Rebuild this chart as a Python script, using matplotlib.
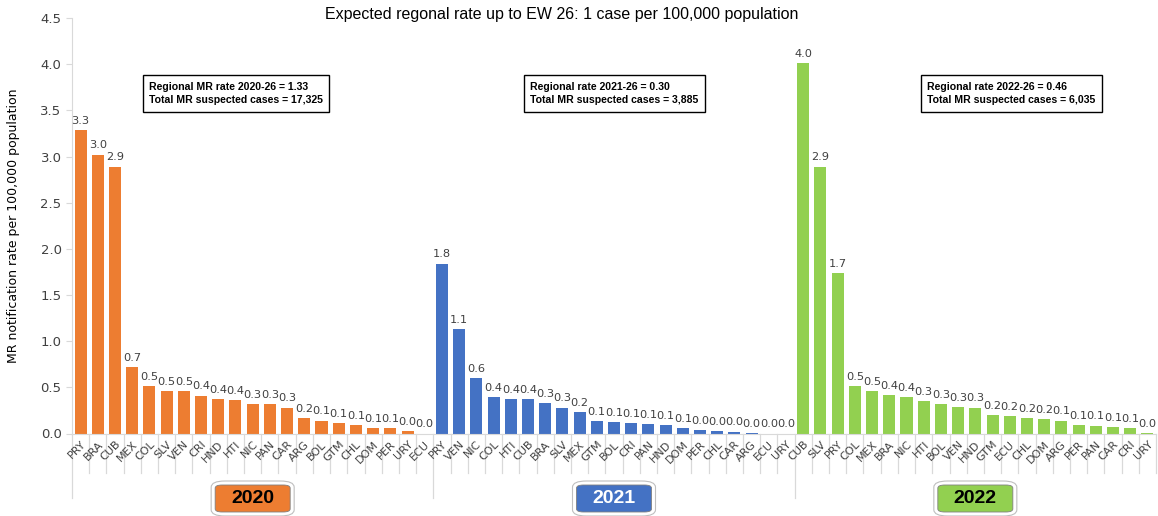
import matplotlib
matplotlib.use("Agg")
import matplotlib.pyplot as plt
from matplotlib.patches import FancyBboxPatch
import matplotlib.transforms as mtransforms

plt.rcParams['font.family'] = ['Liberation Sans', 'DejaVu Sans']

years = ["2020", "2021", "2022"]
countries_2020 = ["PRY", "BRA", "CUB", "MEX", "COL", "SLV", "VEN", "CRI", "HND", "HTI", "NIC",
                  "PAN", "CAR", "ARG", "BOL", "GTM", "CHL", "DOM", "PER", "URY", "ECU"]
rates_2020 = [3.29, 3.02, 2.89, 0.72, 0.51, 0.46, 0.46, 0.41, 0.37, 0.36, 0.32,
              0.32, 0.28, 0.17, 0.14, 0.11, 0.09, 0.06, 0.06, 0.03, 0.0]
countries_2021 = ["PRY", "VEN", "NIC", "COL", "HTI", "CUB", "BRA", "SLV", "MEX", "GTM", "BOL",
                  "CRI", "PAN", "HND", "DOM", "PER", "CHL", "CAR", "ARG", "ECU", "URY"]
rates_2021 = [1.84, 1.13, 0.60, 0.39, 0.37, 0.37, 0.33, 0.28, 0.23, 0.13, 0.12,
              0.11, 0.10, 0.09, 0.06, 0.04, 0.03, 0.02, 0.005, 0.0, 0.0]
countries_2022 = ["CUB", "SLV", "PRY", "COL", "MEX", "BRA", "NIC", "HTI", "BOL", "VEN", "HND",
                  "GTM", "ECU", "CHL", "DOM", "ARG", "PER", "PAN", "CAR", "CRI", "URY"]
rates_2022 = [4.01, 2.89, 1.74, 0.51, 0.46, 0.42, 0.39, 0.35, 0.32, 0.29, 0.28,
              0.20, 0.19, 0.17, 0.16, 0.14, 0.095, 0.085, 0.065, 0.055, 0.005]
box_texts = ["Regional MR rate 2020-26 = 1.33\nTotal MR suspected cases = 17,325",
             "Regional rate 2021-26 = 0.30\nTotal MR suspected cases = 3,885",
             "Regional rate 2022-26 = 0.46\nTotal MR suspected cases = 6,035"]
title = "Expected regonal rate up to EW 26: 1 case per 100,000 population"
ylabel = "MR notification rate per 100,000 population"

colors = ["#ED7D31", "#4472C4", "#92D050"]
year_text_colors = ["black", "white", "black"]
gray = "#404040"
axis_gray = "#D9D9D9"

W, H = 1158, 516
fig = plt.figure(figsize=(W / 100, H / 100), dpi=100)
ax = fig.add_axes([72 / W, 1 - 433.5 / H, (1156 - 72) / W, (433.5 - 18) / H])

groups = [(countries_2020, rates_2020), (countries_2021, rates_2021), (countries_2022, rates_2022)]
labels = []
pos = 0
group_bounds = []
for gi, (cats, vals) in enumerate(groups):
    xs = list(range(pos, pos + len(cats)))
    ax.bar(xs, vals, width=0.7, color=colors[gi], zorder=2)
    for x, v in zip(xs, vals):
        ax.annotate(f"{v:.1f}", (x, v), xytext=(0, 3), textcoords="offset points",
                    ha="center", va="bottom", fontsize=8.2, color=gray,
                    family=['DejaVu Sans'])
    labels += cats
    group_bounds.append((pos - 0.5, pos + len(cats) - 0.5))
    pos += len(cats)

ax.set_xlim(-0.5, pos - 0.5)
ax.set_ylim(0, 4.5)
ax.set_yticks([i * 0.5 for i in range(10)])
ax.set_yticklabels([f"{i * 0.5:.1f}" for i in range(10)], fontsize=9.5, color=gray,
                   family=['DejaVu Sans'])
ax.set_xticks(range(pos))
ax.set_xticklabels(labels, rotation=45, ha="right", va="top", rotation_mode="anchor",
                   fontsize=8, color=gray, family=['DejaVu Sans'])
ax.tick_params(axis="x", length=0, pad=4)
ax.tick_params(axis="y", length=4, color=axis_gray)
for s in ["top", "right"]:
    ax.spines[s].set_visible(False)
ax.spines["left"].set_color(axis_gray)
ax.spines["bottom"].set_color(axis_gray)

# category separators below axis (Excel multi-level axis)
trans = mtransforms.blended_transform_factory(ax.transData, ax.transAxes)
ax_h_px = 433.5 - 18
for k in range(pos + 1):
    x = k - 0.5
    is_group = any(abs(x - b[0]) < 1e-6 for b in group_bounds)
    depth = (498 - 433.5) if is_group else (473 - 433.5)
    ax.plot([x, x], [0, -depth / ax_h_px], transform=trans, color=axis_gray,
            lw=0.9, clip_on=False, zorder=1)

# year badges
for gi, (b0, b1) in enumerate(group_bounds):
    cx = (b0 + b1) / 2
    cx_fig = fig.transFigure.inverted().transform(ax.transData.transform((cx, 0)))[0]
    bw, bh = 75 / W, 27 / H
    by = 1 - 512 / H
    outer = FancyBboxPatch((cx_fig - bw / 2 - 4 / W, by - 4 / H), bw + 8 / W, bh + 8 / H,
                           boxstyle="round,pad=0,rounding_size=0.012",
                           transform=fig.transFigure, facecolor="white",
                           edgecolor="#BFBFBF", lw=0.8, zorder=3)
    inner = FancyBboxPatch((cx_fig - bw / 2, by), bw, bh,
                           boxstyle="round,pad=0,rounding_size=0.006",
                           transform=fig.transFigure, facecolor=colors[gi],
                           edgecolor="#7F7F7F", lw=0.6, zorder=4)
    fig.patches.extend([outer, inner])
    fig.text(cx_fig, by + bh / 2, years[gi], ha="center", va="center", fontsize=14,
             fontweight="bold", color=year_text_colors[gi], zorder=5)

# info boxes
box_x = [149, 530, 927]
for bx, t in zip(box_x, box_texts):
    fig.text(bx / W, 1 - 93.5 / H, t, ha="left", va="center", fontsize=7.6,
             fontweight="bold", color="black", linespacing=1.45,
             bbox=dict(boxstyle="square,pad=0.6", facecolor="white",
                       edgecolor="black", lw=1.0))

fig.text(562 / W, 1 - 14 / H, title, ha="center", va="center", fontsize=11.5,
         color="black")
fig.text(14 / W, 1 - 226 / H, ylabel, ha="center", va="center", rotation=90,
         fontsize=9, color="black", family=['DejaVu Sans'])

fig.savefig("out.png", dpi=100)
